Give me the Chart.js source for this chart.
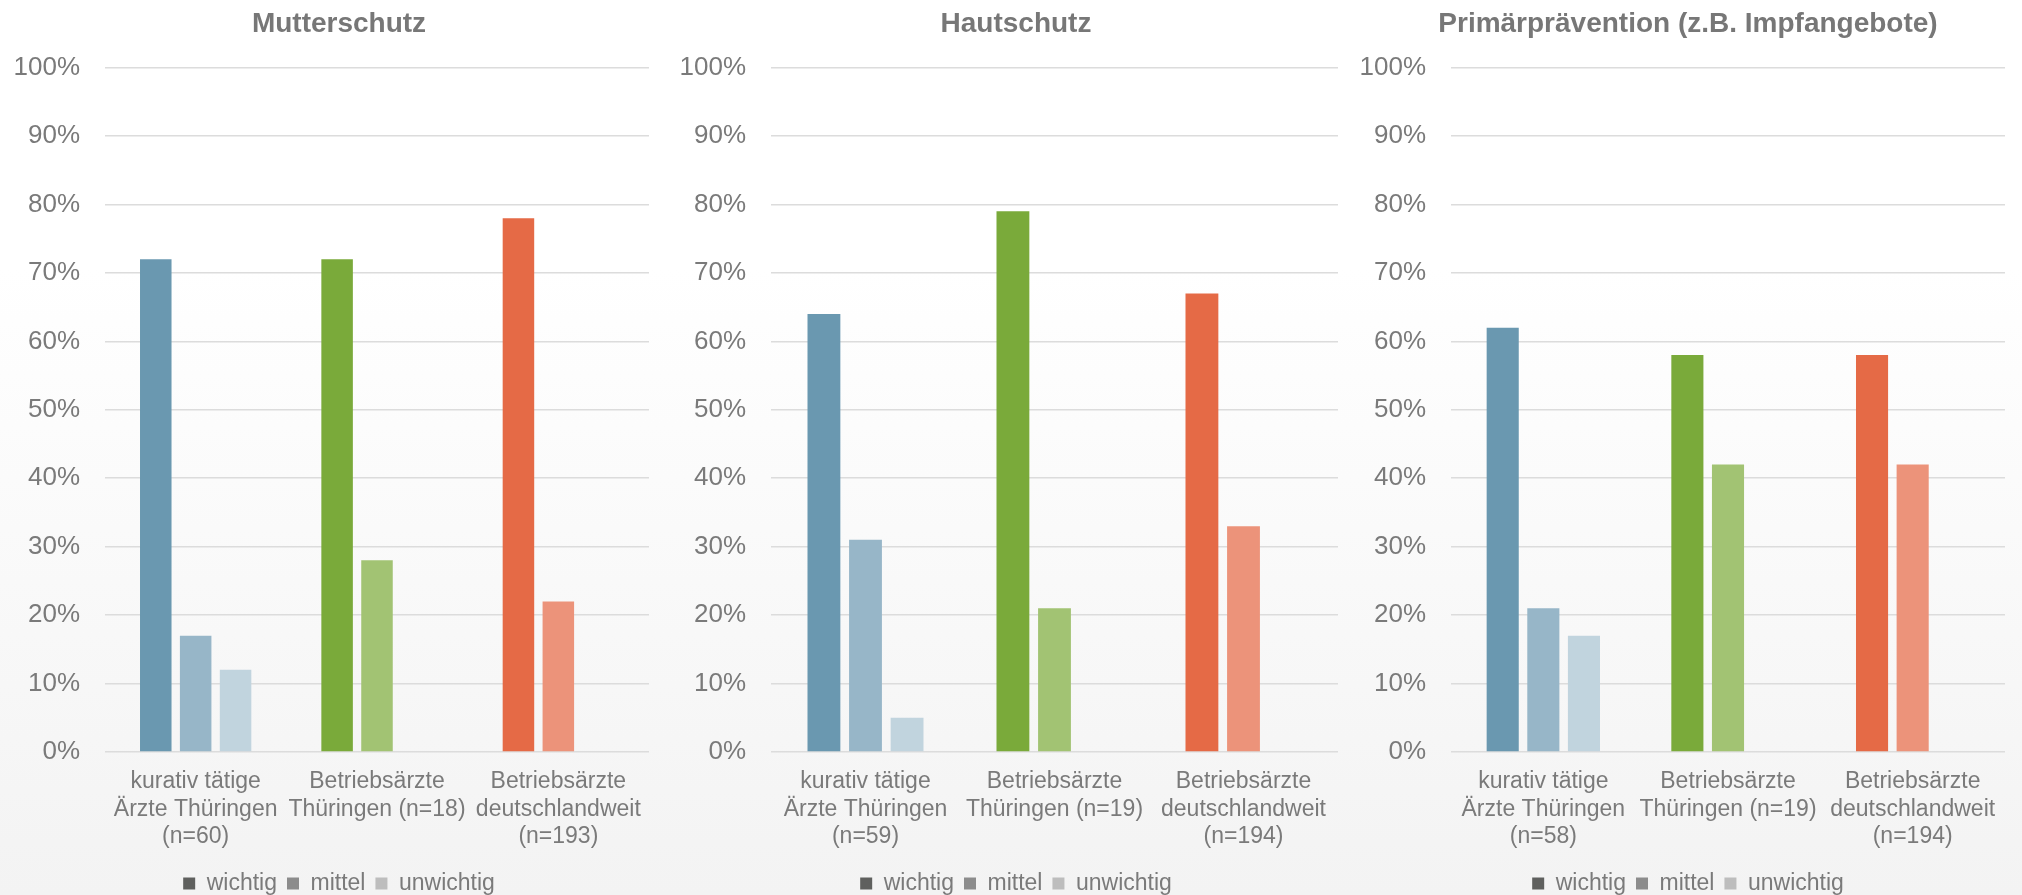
<!DOCTYPE html>
<html lang="de">
<head>
<meta charset="utf-8">
<title>Bedeutung der Präventionsthemen</title>
<script src="https://cdn.jsdelivr.net/npm/chart.js@4.4.1/dist/chart.umd.min.js"></script>
<style>
  html, body {
    margin: 0;
    padding: 0;
  }
  body {
    width: 2022px;
    height: 895px;
    position: relative;
    overflow: hidden;
    background: linear-gradient(to bottom, #ffffff 0%, #ffffff 30%, #f3f3f3 100%);
  }
  canvas {
    position: absolute;
    top: 0;
  }
</style>
</head>
<body>
<canvas id="chart0" width="678" height="895" style="left:0px"></canvas>
<canvas id="chart1" width="676" height="895" style="left:678px"></canvas>
<canvas id="chart2" width="668" height="895" style="left:1354px"></canvas>

<script>
const panelTitles = ['Mutterschutz', 'Hautschutz', 'Primärprävention (z.B. Impfangebote)'];
const seriesNames = ['wichtig', 'mittel', 'unwichtig'];
// sample sizes per group, one row per panel
const groupSizes = [[60, 18, 193], [59, 19, 194], [58, 19, 194]];

// percentages, one row per panel, columns = groups
const wichtig = [[72, 72, 78], [64, 79, 67], [62, 58, 58]];
const mittel = [[17, 28, 22], [31, 21, 33], [21, 42, 42]];
const unwichtig = [[12, 0, 0], [5, 0, 0], [17, 0, 0]];

const yTicks = [0, 10, 20, 30, 40, 50, 60, 70, 80, 90, 100];

function groupLabels(n) {
    return [
        ['kurativ tätige', 'Ärzte Thüringen', '(n=' + n[0] + ')'],
        ['Betriebsärzte', 'Thüringen (n=' + n[1] + ')'],
        ['Betriebsärzte', 'deutschlandweit', '(n=' + n[2] + ')']
    ];
}

// each group has its own hue, each series a lighter shade of it
const barColors = [
    ['#6a98b0', '#7aaa3a', '#e56a46'],
    ['#97b6c8', '#a2c373', '#ec937a'],
    ['#c1d4de', '#c8dcae', '#f3bba9']
];
const legendColors = ['#5f605e', '#8c8c8c', '#bdbdbd'];

// y axis width and right gap per panel, so the plot areas line up
const axisWidths = [105, 93, 97];
const rightGaps = [29, 16, 17];

const FONT = "'Liberation Sans', Arial, sans-serif";
const TEXT = '#7a7a7a';

Chart.defaults.font.family = FONT;
Chart.defaults.color = TEXT;

// push the legend a bit further down, closer to the bottom edge
const legendShift = {
    id: 'legendShift',
    afterLayout(chart) {
        chart.legend.top += 10;
        chart.legend.bottom += 10;
    }
};

const seriesValues = [wichtig, mittel, unwichtig];

panelTitles.forEach((title, p) => {
    const ctx = document.getElementById('chart' + p);
    new Chart(ctx, {
        type: 'bar',
        data: {
            labels: groupLabels(groupSizes[p]),
            datasets: seriesNames.map((name, s) => ({
                label: name,
                data: seriesValues[s][p],
                backgroundColor: barColors[s],
                borderWidth: 0,
                categoryPercentage: 0.66,
                barPercentage: 0.79
            }))
        },
        plugins: [legendShift],
        options: {
            responsive: false,
            animation: false,
            plugins: {
                title: {
                    display: true,
                    text: title,
                    color: '#777777',
                    font: { size: 28, weight: 'bold', family: FONT, lineHeight: 1.2 },
                    padding: { top: 7, bottom: 27 }
                },
                legend: {
                    position: 'bottom',
                    labels: {
                        boxWidth: 12,
                        boxHeight: 12,
                        padding: 10,
                        color: TEXT,
                        font: { size: 23, family: FONT },
                        generateLabels: (chart) => chart.data.datasets.map((ds, i) => ({
                            text: ds.label,
                            fillStyle: legendColors[i],
                            strokeStyle: legendColors[i],
                            lineWidth: 0,
                            hidden: false,
                            datasetIndex: i,
                            fontColor: TEXT
                        }))
                    },
                    onClick: () => {}
                },
                tooltip: { enabled: false }
            },
            scales: {
                x: {
                    grid: { display: false, drawTicks: false },
                    border: { display: false },
                    ticks: {
                        color: TEXT,
                        padding: 16,
                        maxRotation: 0,
                        autoSkip: false,
                        font: { size: 23, family: FONT, lineHeight: 1.2 }
                    },
                    afterFit: (scale) => { scale.height = 100; }
                },
                y: {
                    min: 0,
                    max: 100,
                    afterBuildTicks: (scale) => {
                        scale.ticks = yTicks.map(v => ({ value: v }));
                    },
                    grid: { color: '#dcdcdc', lineWidth: 1.5, drawTicks: false },
                    border: { display: false },
                    ticks: {
                        color: TEXT,
                        padding: 25,
                        font: { size: 26, family: FONT },
                        callback: (v) => v + '%'
                    },
                    afterFit: (scale) => { scale.width = axisWidths[p]; }
                },
                // empty axis on the right only reserves space, so title and legend stay centred
                yRight: {
                    type: 'linear',
                    position: 'right',
                    min: 0,
                    max: 100,
                    grid: { display: false, drawTicks: false },
                    border: { display: false },
                    ticks: { display: false },
                    afterFit: (scale) => { scale.width = rightGaps[p]; }
                }
            }
        }
    });
});
</script>
</body>
</html>
